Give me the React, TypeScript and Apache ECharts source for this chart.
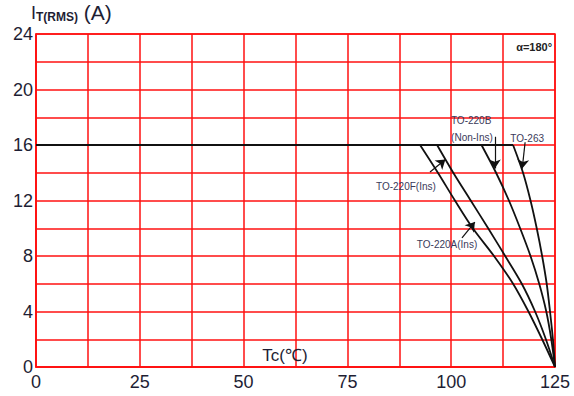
import React, { useEffect, useRef } from "react";
import * as echarts from "echarts";

const currentLevels = [16, 14, 12, 10, 8, 6, 4, 2, 0];
const tempTO220A = [92.5, 96.8, 100.9, 105.2, 110.3, 114.9, 118.6, 121.9, 125];
const tempTO220F = [96.6, 100.5, 104.7, 108.9, 113.0, 117.0, 120.2, 122.8, 125];
const tempTO220B = [107.3, 110.8, 113.9, 116.6, 119.1, 121.2, 122.9, 124.1, 125];
const tempTO263 = [114.9, 117.3, 119.1, 120.6, 121.9, 123.0, 123.8, 124.5, 125];
const holdTemps = [0, 114.9];
const holdCurrent = 16;

const xTickLabels = [0, 25, 50, 75, 100, 125];
const yTickLabels = [0, 4, 8, 12, 16, 20, 24];

const arrows = [
  { from: [110.5, 16.6], to: [110.5, 14.3] },
  { from: [117.8, 16.2], to: [117.1, 14.3] },
  { from: [94.9, 14.05], to: [98.6, 14.95] },
  { from: [102.6, 9.3], to: [105.7, 10.45] },
];

const labels = [
  { text: "TO-220B", at: [104.8, 17.8], align: "center" },
  { text: "(Non-Ins)", at: [105, 16.55], align: "center" },
  { text: "TO-263", at: [118.3, 16.45], align: "center" },
  { text: "TO-220F(Ins)", at: [89.1, 13.0], align: "center" },
  { text: "TO-220A(Ins)", at: [99, 8.8], align: "center" },
];

const RED = "#ff1010";
const INK = "#1e1e34";
const FONT = "'Liberation Sans', Arial, sans-serif";

function pairs(xs: number[], ys: number[]) {
  return xs.map((x, i) => [x, ys[i]]);
}

export default function App() {
  const ref = useRef<HTMLDivElement>(null);
  useEffect(() => {
    if (!ref.current) return;
    const chart = echarts.init(ref.current, undefined, { renderer: "svg" });
    const curve = (name: string, xs: number[]) => ({
      name,
      type: "line",
      data: pairs(xs, currentLevels),
      smooth: 0.3,
      showSymbol: false,
      symbol: "none",
      lineStyle: { color: "#111", width: 1.8 },
      z: 5,
    });
    chart.setOption({
      animation: false,
      backgroundColor: "#fff",
      grid: {
        left: 36,
        right: 19,
        top: 34,
        bottom: 29,
        show: true,
        borderColor: RED,
        borderWidth: 1.5,
      },
      xAxis: {
        type: "value",
        min: 0,
        max: 125,
        interval: 12.5,
        axisLine: { show: true, lineStyle: { color: RED, width: 1.5 } },
        axisTick: { show: false },
        splitLine: { show: true, lineStyle: { color: RED, width: 1.5 } },
        axisLabel: {
          color: INK,
          fontFamily: FONT,
          fontSize: 18,
          margin: 6,
          formatter: (v: number) => (xTickLabels.includes(v) ? String(v) : ""),
        },
      },
      yAxis: {
        type: "value",
        min: 0,
        max: 24,
        interval: 2,
        axisLine: { show: true, lineStyle: { color: RED, width: 1.5 } },
        axisTick: { show: false },
        splitLine: { show: true, lineStyle: { color: RED, width: 1.5 } },
        axisLabel: {
          color: INK,
          fontFamily: FONT,
          fontSize: 18,
          margin: 3,
          formatter: (v: number) => (yTickLabels.includes(v) ? String(v) : ""),
        },
      },
      series: [
        {
          name: "hold",
          type: "line",
          data: holdTemps.map((t) => [t, holdCurrent]),
          showSymbol: false,
          symbol: "none",
          lineStyle: { color: "#111", width: 1.8 },
          z: 5,
        },
        curve("TO-220A(Ins)", tempTO220A),
        curve("TO-220F(Ins)", tempTO220F),
        curve("TO-220B(Non-Ins)", tempTO220B),
        curve("TO-263", tempTO263),
        {
          type: "lines",
          coordinateSystem: "cartesian2d",
          symbol: ["none", "arrow"],
          symbolSize: 9,
          lineStyle: { color: "#111", width: 1.2, opacity: 1 },
          data: arrows.map((a) => ({ coords: [a.from, a.to] })),
          z: 6,
        },
      ],
    });

    const px = (p: number[]) =>
      chart.convertToPixel({ xAxisIndex: 0, yAxisIndex: 0 }, p) as number[];
    const graphics: any[] = labels.map((l) => {
      const [x, y] = px(l.at);
      return {
        type: "text",
        x,
        y,
        z: 10,
        style: {
          text: l.text,
          fill: "#3a3a5a",
          font: `10px ${FONT}`,
          align: l.align,
          verticalAlign: "middle",
        },
      };
    });
    const alpha = px([124.3, 23.05]);
    graphics.push({
      type: "text",
      x: alpha[0],
      y: alpha[1],
      z: 10,
      style: {
        text: "α=180°",
        fill: "#222",
        font: `bold 11px ${FONT}`,
        align: "right",
        verticalAlign: "middle",
      },
    });
    const tc = px([54.5, 0.86]);
    graphics.push({
      type: "text",
      x: tc[0],
      y: tc[1],
      z: 10,
      style: {
        text: "Tc(℃)",
        fill: INK,
        font: `17px ${FONT}`,
        align: "left",
        verticalAlign: "middle",
      },
    });
    graphics.push({
      type: "text",
      x: 31,
      y: 23,
      z: 10,
      style: {
        text: "{a|I}{b|T(RMS)}{c| (A)}",
        verticalAlign: "bottom",
        rich: {
          a: { fontSize: 18, fontFamily: FONT, fill: INK, color: INK },
          b: { fontSize: 12, fontWeight: "bold", fontFamily: FONT, fill: INK, color: INK, verticalAlign: "bottom" },
          c: { fontSize: 21, fontFamily: FONT, fill: INK, color: INK },
        },
      },
    });
    chart.setOption({ graphic: graphics });
    return () => chart.dispose();
  }, []);
  return <div ref={ref} style={{ width: 574, height: 396, position: "absolute", left: 0, top: 0 }} />;
}
